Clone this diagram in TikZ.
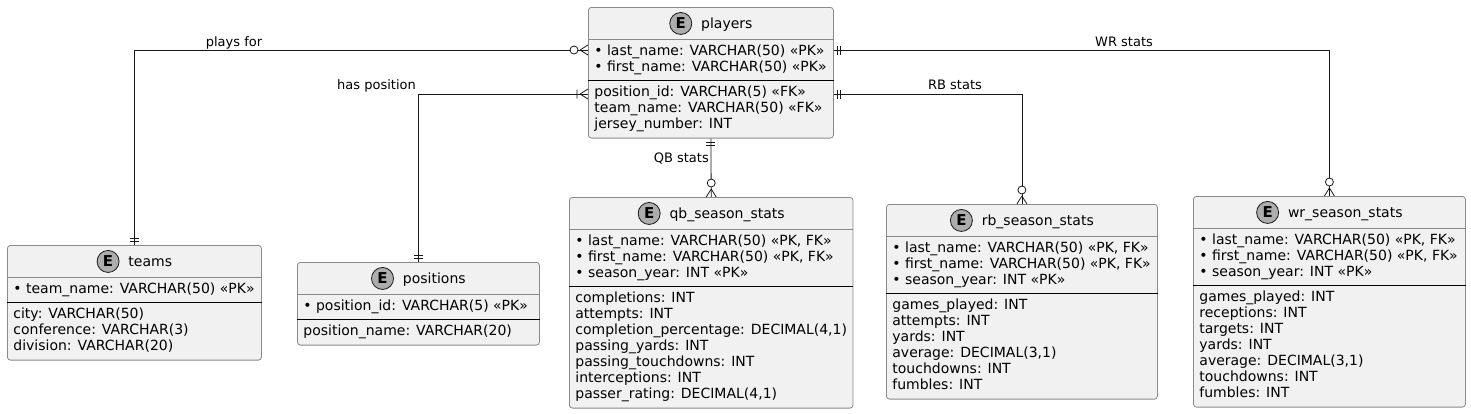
\documentclass[tikz,border=0pt]{standalone}
\usepackage{fontspec}
\setmainfont{DejaVu Sans}
\usetikzlibrary{shapes.multipart}

\definecolor{entfill}{HTML}{F1F1F1}
\definecolor{entline}{HTML}{8A8A8A}
\definecolor{efill}{HTML}{ADADAD}
\definecolor{relline}{HTML}{181818}

\tikzset{
  entity/.style={rectangle split, rectangle split parts=3, rectangle split draw splits=false,
    rectangle split part align={center,left,left}, draw=entline, line width=0.8pt, fill=entfill,
    rounded corners=3pt, anchor=north west, align=left, inner xsep=6pt, inner ysep=4.25pt,
    font=\fontsize{14}{16}\selectfont},
  rel/.style={draw=relline, line width=0.8pt},
  lbl/.style={font=\fontsize{13}{15}\selectfont, inner sep=0pt},
  % crow's foot ends, local +x points into the entity
  pics/zmany/.style={code={
    \draw[rel] (-8,0) -- (0,-5) (-8,0) -- (0,5);
    \draw[rel, fill=white] (-14,0) circle (4);}},
  pics/omany/.style={code={
    \draw[rel] (-8,0) -- (0,-5) (-8,0) -- (0,5) (-11,-4.5) -- (-11,4.5);}},
  pics/one/.style={code={
    \draw[rel] (-4,-4.5) -- (-4,4.5) (-7,-4.5) -- (-7,4.5);}},
}

\newcommand{\ecirc}{\tikz[baseline=-5pt]\node[circle, anchor=center, draw=relline, line width=0.8pt,
  fill=efill, inner sep=0pt, minimum size=22pt, font=\bfseries\fontsize{15}{15}\selectfont]{E};}

\begin{document}
\begin{tikzpicture}[x=1pt,y=-1pt]
\useasboundingbox (0,0) rectangle (1471,413);

\node[entity, minimum width=245pt] (players) at (588,7) {\ecirc\hspace{9pt}players
  \nodepart{two}\strut • last\_name: VARCHAR(50) «PK»\\ • first\_name: VARCHAR(50) «PK»\strut
  \nodepart{three}\strut position\_id: VARCHAR(5) «FK»\\ team\_name: VARCHAR(50) «FK»\\ jersey\_number: INT\strut};

\node[entity, minimum width=254pt] (teams) at (7,245) {\ecirc\hspace{9pt}teams
  \nodepart{two}\strut • team\_name: VARCHAR(50) «PK»\strut
  \nodepart{three}\strut city: VARCHAR(50)\\ conference: VARCHAR(3)\\ division: VARCHAR(20)\strut};

\node[entity, minimum width=242pt] (positions) at (297,262) {\ecirc\hspace{9pt}positions
  \nodepart{two}\strut • position\_id: VARCHAR(5) «PK»\strut
  \nodepart{three}\strut position\_name: VARCHAR(20)\strut};

\node[entity, minimum width=282pt] (qb) at (569,197) {\ecirc\hspace{9pt}qb\_season\_stats
  \nodepart{two}\strut • last\_name: VARCHAR(50) «PK, FK»\\ • first\_name: VARCHAR(50) «PK, FK»\\ • season\_year: INT «PK»\strut
  \nodepart{three}\strut completions: INT\\ attempts: INT\\ completion\_percentage: DECIMAL(4,1)\\ passing\_yards: INT\\
  passing\_touchdowns: INT\\ interceptions: INT\\ passer\_rating: DECIMAL(4,1)\strut};

\node[entity, minimum width=271pt] (rb) at (886,204) {\ecirc\hspace{9pt}rb\_season\_stats
  \nodepart{two}\strut • last\_name: VARCHAR(50) «PK, FK»\\ • first\_name: VARCHAR(50) «PK, FK»\\ • season\_year: INT «PK»\strut
  \nodepart{three}\strut games\_played: INT\\ attempts: INT\\ yards: INT\\ average: DECIMAL(3,1)\\ touchdowns: INT\\ fumbles: INT\strut};

\node[entity, minimum width=272pt] (wr) at (1193,196) {\ecirc\hspace{9pt}wr\_season\_stats
  \nodepart{two}\strut • last\_name: VARCHAR(50) «PK, FK»\\ • first\_name: VARCHAR(50) «PK, FK»\\ • season\_year: INT «PK»\strut
  \nodepart{three}\strut games\_played: INT\\ receptions: INT\\ targets: INT\\ yards: INT\\ average: DECIMAL(3,1)\\ touchdowns: INT\\ fumbles: INT\strut};

% header and key separators
\foreach \e in {players,teams,positions,qb,rb,wr}{
  \draw[entline, line width=0.8pt] (\e.text split west) -- (\e.text split east);
  \draw[black, line width=0.8pt] (\e.two split west) -- (\e.two split east);
}

\coordinate (pw1) at ([yshift=-43pt]players.north west);
\coordinate (pw2) at ([yshift=-87pt]players.north west);
\coordinate (pe1) at ([yshift=-43pt]players.north east);
\coordinate (pe2) at ([yshift=-87pt]players.north east);

\draw[rel] (pw1) -| (teams.north);
\draw[rel] (pw2) -| (positions.north);
\draw[rel] (pe1) -| (wr.north);
\draw[rel] (pe2) -| (rb.north);
\draw[rel] (players.south) -- (qb.north);

\node[lbl, anchor=base] (lplays) at (234,46) {plays for};
\node[lbl, anchor=base east] (lpos) at (416,89.5) {has position};
\node[lbl, anchor=base] (lwr) at (1124,46) {WR stats};
\node[lbl, anchor=base] (lrb) at (955,89.5) {RB stats};
\node[lbl, anchor=base east] (lqb) at (709,162) {QB stats};

\pic at (pw1) {zmany};
\pic at (pw2) {omany};
\pic[rotate=-90] at (teams.north) {one};
\pic[rotate=-90] at (positions.north) {one};
\pic[rotate=180] at (pe1) {one};
\pic[rotate=180] at (pe2) {one};
\pic[rotate=-90] at (wr.north) {zmany};
\pic[rotate=-90] at (rb.north) {zmany};
\pic[rotate=90] at (players.south) {one};
\pic[rotate=-90] at (qb.north) {zmany};
\end{tikzpicture}
\end{document}
